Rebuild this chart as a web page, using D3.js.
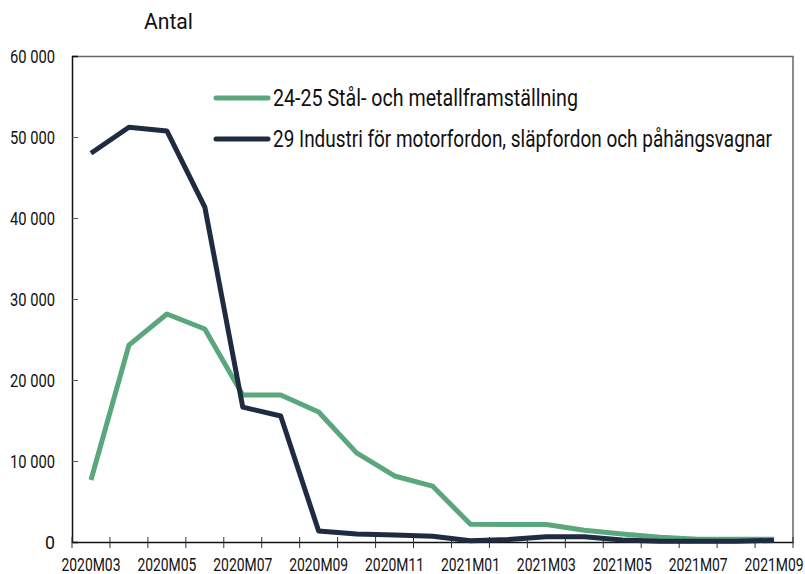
<!DOCTYPE html>
<head>
<meta charset="utf-8">
<style>
    body { margin: 0; background: #fff; }
    text { font-family: Roboto, "DejaVu Sans", sans-serif; fill: #111; }
</style>
</head>
<body>
    <script src="https://d3js.org/d3.v7.min.js"></script>
    <script>

    ////////// DATA //////////

    const months = ['2020M03','2020M04','2020M05','2020M06','2020M07','2020M08','2020M09','2020M10',
        '2020M11','2020M12','2021M01','2021M02','2021M03','2021M04','2021M05','2021M06',
        '2021M07','2021M08','2021M09'];
    const steel = [7650, 24300, 28150, 26300, 18150, 18150, 16050, 11000, 8150, 6900,
        2200, 2150, 2150, 1450, 1000, 600, 350, 350, 350];
    const motor = [48000, 51200, 50750, 41350, 16650, 15550, 1350, 1000, 850, 700,
        150, 300, 650, 650, 250, 100, 100, 100, 200];
    const seriesNames = ['24-25 Stål- och metallframställning',
        '29 Industri för motorfordon, släpfordon och påhängsvagnar'];
    const yTicks = [0, 10000, 20000, 30000, 40000, 50000, 60000];

    ////////// SETUP //////////

    const margin = { top: 56, right: 12, bottom: 32, left: 72 };
    const width = 805 - margin.left - margin.right;
    const height = 574 - margin.top - margin.bottom;

    let svg = d3.select('body').append('svg')
        .attr('width', 805)
        .attr('height', 574);
    let base = svg.append('g')
        .attr('transform', 'translate(' + margin.left + ',' + margin.top + ')');

    let x = d3.scaleBand().domain(months).range([0, width]);
    let y = d3.scaleLinear().domain([0, 60000]).range([height, 0]);

    // condensed look: squeeze text to a given width
    function squeeze(sel, w) {
        sel.attr('textLength', w).attr('lengthAdjust', 'spacingAndGlyphs');
    }

    ////////// AXES //////////

    // frame top + right
    base.append('path')
        .attr('d', 'M0,0.5H' + width + 'V' + height)
        .attr('fill', 'none')
        .attr('stroke', '#666')
        .attr('stroke-width', 1.5);

    let fmt = d => d3.format(',')(d).replace(/,/g, ' ');

    let yAxis = base.append('g')
        .call(d3.axisLeft(y).tickValues(yTicks).tickSize(-6).tickFormat(fmt).tickPadding(17));
    yAxis.select('.domain').attr('stroke', '#111').attr('stroke-width', 1.5);
    yAxis.selectAll('.tick line').attr('stroke', '#555').filter(d => d === 60000 || d === 0).remove();
    yAxis.selectAll('text')
        .style('font-size', '19px')
        .attr('dy', '0.36em')
        .each(function(d) { squeeze(d3.select(this), d === 0 ? 10 : 45); });

    let xAxis = base.append('g')
        .attr('transform', 'translate(0,' + height + ')')
        .call(d3.axisBottom(x).tickSize(0).tickFormat((d, i) => i % 2 === 0 ? d : '').tickPadding(16));
    xAxis.select('.domain').attr('stroke', '#111').attr('stroke-width', 1.5);
    xAxis.selectAll('text')
        .style('font-size', '18px')
        .each(function(d, i) { if (i % 2 === 0) squeeze(d3.select(this), 59); });
    // tick marks at band edges
    xAxis.selectAll('.edge')
        .data(d3.range(months.length + 1))
        .join('line')
        .attr('class', 'edge')
        .attr('x1', i => i * x.step()).attr('x2', i => i * x.step())
        .attr('y1', -5).attr('y2', 6)
        .attr('stroke', '#333');

    svg.append('text')
        .attr('x', 144).attr('y', 29)
        .style('font-size', '22px')
        .text('Antal')
        .call(squeeze, 49);

    ////////// LINES //////////

    let line = d3.line()
        .x((d, i) => x(months[i]) + x.bandwidth() / 2)
        .y(d => y(d));

    const colors = ['#5ba77d', '#1f2b40'];
    [steel, motor].forEach((s, i) => {
        base.append('path')
            .attr('d', line(s))
            .attr('fill', 'none')
            .attr('stroke', colors[i])
            .attr('stroke-width', 5)
            .attr('stroke-linejoin', 'round');
    });

    ////////// LEGEND //////////

    const legendWidths = [305, 499];
    let legend = svg.append('g');
    seriesNames.forEach((name, i) => {
        let ly = 98 + i * 41;
        legend.append('line')
            .attr('x1', 216).attr('x2', 268)
            .attr('y1', ly).attr('y2', ly)
            .attr('stroke', colors[i])
            .attr('stroke-width', 5)
            .attr('stroke-linecap', 'round');
        legend.append('text')
            .attr('x', 273).attr('y', ly + 8)
            .style('font-size', '23px')
            .text(name)
            .call(squeeze, legendWidths[i]);
    });

    </script>
</body>
